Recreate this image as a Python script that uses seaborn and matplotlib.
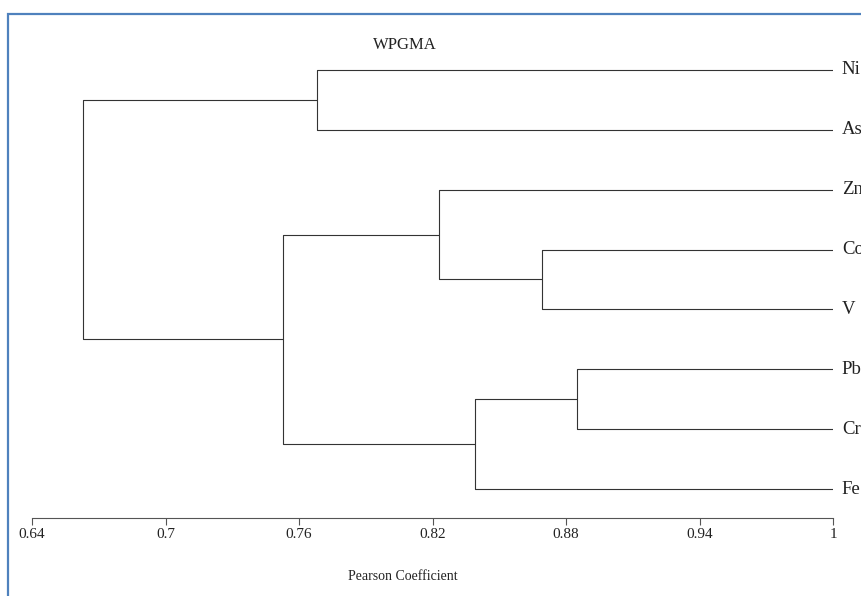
import pandas as pd
import numpy as np
import seaborn as sns
import matplotlib.pyplot as plt
from matplotlib.patches import Rectangle

# leaves top to bottom
leaves = ['Ni', 'As', 'Zn', 'Co', 'V', 'Pb', 'Cr', 'Fe']
# merges: (left, right, similarity)
merge_left = ['Ni', 'Co', 'Zn', 'Pb', 'PbCr', 'ZnCoV', 'NiAs']
merge_right = ['As', 'V', 'CoV', 'Cr', 'Fe', 'PbCrFe', 'Rest']
merge_name = ['NiAs', 'CoV', 'ZnCoV', 'PbCr', 'PbCrFe', 'Rest', 'Root']
merge_height = [0.768, 0.869, 0.823, 0.885, 0.839, 0.753, 0.663]

ticks = [0.64, 0.7, 0.76, 0.82, 0.88, 0.94, 1]
tick_labels = ['0.64', '0.7', '0.76', '0.82', '0.88', '0.94', '1']

sns.set_theme(style='white')
plt.rcParams['font.family'] = ['Liberation Serif', 'DejaVu Serif']

# node positions
pos = {name: (1.0, i) for i, name in enumerate(leaves)}
rows = []
seg = 0
for a, b, n, h in zip(merge_left, merge_right, merge_name, merge_height):
    xa, ya = pos[a]
    xb, yb = pos[b]
    for x, y in [(xa, ya), (h, ya), (h, yb), (xb, yb)]:
        rows.append({'x': x, 'y': y, 'seg': seg})
    seg += 1
    pos[n] = (h, (ya + yb) / 2)
df = pd.DataFrame(rows)

fig = plt.figure(figsize=(8.61, 5.96), dpi=100)
ax = fig.add_axes([32 / 861, (596 - 518) / 596, (833 - 32) / 861, (518 - 40) / 596])
sns.lineplot(data=df, x='x', y='y', units='seg', estimator=None, sort=False,
             color='#333333', linewidth=0.8, ax=ax)

ax.set_xlim(0.64, 1)
ax.set_ylim(7.484, -0.5)
ax.set_xticks(ticks)
ax.set_xticklabels(tick_labels, fontsize=11)
ax.set_yticks([])
ax.set_xlabel('')
ax.set_ylabel('')
for s in ['top', 'right', 'left']:
    ax.spines[s].set_visible(False)
ax.spines['bottom'].set_color('#555555')
ax.spines['bottom'].set_linewidth(0.8)
ax.tick_params(axis='x', direction='out', length=5, width=0.8, color='#555555',
               bottom=True, pad=2, labelcolor='#222222')

for i, name in enumerate(leaves):
    ax.text(1.004, i, name, fontsize=13.5, va='center', ha='left', color='#222222', clip_on=False)

fig.text(405 / 861, 1 - 45 / 596, 'WPGMA', fontsize=12, ha='center', va='center', color='#222222')
fig.text(403 / 861, 1 - 576 / 596, 'Pearson Coefficient', fontsize=10, ha='center', va='center', color='#222222')

fig.patches.append(Rectangle((8 / 861, -0.1), 1.2, 1.1 - 14 / 596, transform=fig.transFigure,
                             fill=False, edgecolor='#4F81BD', linewidth=1.6))

fig.savefig('out.png', dpi=100)
